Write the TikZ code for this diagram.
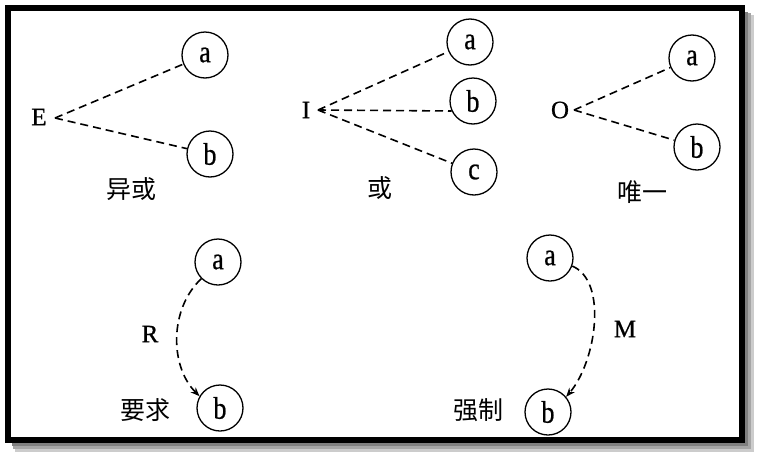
\documentclass[tikz,border=0pt]{standalone}
\usepackage{fontspec}
\setmainfont{Liberation Serif}
\newfontfamily\thickfont{Liberation Serif}[FakeBold=0.7]
\newfontfamily\cjk{Noto Sans CJK SC}
\usetikzlibrary{arrows.meta}
\newcommand{\tallch}[1]{\scalebox{1}[1.2]{#1}}
\begin{document}
\begin{tikzpicture}[x=1pt,y=1pt,
  cnode/.style={circle,draw,line width=1.3pt,minimum size=46pt,inner sep=0pt,font=\thickfont\fontsize{26}{26}\selectfont},
  letter/.style={inner sep=0pt,font=\thickfont\fontsize{25}{25}\selectfont},
  cjklabel/.style={inner sep=0pt,font=\cjk\fontsize{25}{25}\selectfont},
  link/.style={line width=1.6pt,dash pattern=on 8pt off 5pt},
  arr/.style={link,-{Stealth[length=9pt,width=7pt]}}]
\useasboundingbox (0,0) rectangle (758,-461);
% frame with shadow
\fill[black!20] (15,-15) rectangle (754,-452);
\fill[black!35] (13,-13) rectangle (751,-449);
\fill[black!50] (12,-12) rectangle (748,-446);
\filldraw[fill=white,draw=black,line width=6pt] (8,-7.5) rectangle (741.5,-440);
% E group
\node[letter] (E) at (39,-117) {E};
\coordinate (Ec) at (55,-118);
\node[cnode] (Ea) at (205,-55) {\tallch{a}};
\node[cnode] (Eb) at (210,-154) {\tallch{b}};
\node[cjklabel] (Elab) at (131,-189) {异或};
\draw[link] (Ec) -- (Ea);
\draw[link] (Ec) -- (Eb);
% I group
\node[letter] (I) at (306,-110) {I};
\coordinate (Ic) at (318,-110);
\node[cnode] (Ia) at (470,-42) {\tallch{a}};
\node[cnode] (Ib) at (473,-101) {\tallch{b}};
\node[cnode] (Ic2) at (474,-172) {\tallch{c}};
\node[cjklabel] (Ilab) at (380,-188) {或};
\draw[link] (Ic) -- (Ia);
\draw[link] (Ic) -- (Ib.205);
\draw[link] (Ic) -- (Ic2);
% O group
\node[letter] (O) at (560,-110) {O};
\coordinate (Oc) at (574,-110);
\node[cnode] (Oa) at (692,-58) {\tallch{a}};
\node[cnode] (Ob) at (697,-147) {\tallch{b}};
\node[cjklabel] (Olab) at (642,-192) {唯一};
\draw[link] (Oc) -- (Oa);
\draw[link] (Oc) -- (Ob);
% R
\node[cnode] (Ra) at (218,-262) {\tallch{a}};
\node[cnode] (Rb) at (220,-408) {\tallch{b}};
\node[letter] (R) at (150,-334) {R};
\node[cjklabel] (Rlab) at (145,-410) {要求};
\draw[arr] (Ra.225) .. controls +(-32,-30) and +(-30,30) .. (Rb.150);
% M
\node[cnode] (Ma) at (550,-258) {\tallch{a}};
\node[cnode] (Mb) at (548,-412) {\tallch{b}};
\node[letter] (M) at (625,-329) {M};
\node[cjklabel] (Mlab) at (478,-410) {强制};
\draw[arr] (Ma.-20) .. controls +(36,-15) and +(30,35) .. (Mb.40);
\end{tikzpicture}
\end{document}
